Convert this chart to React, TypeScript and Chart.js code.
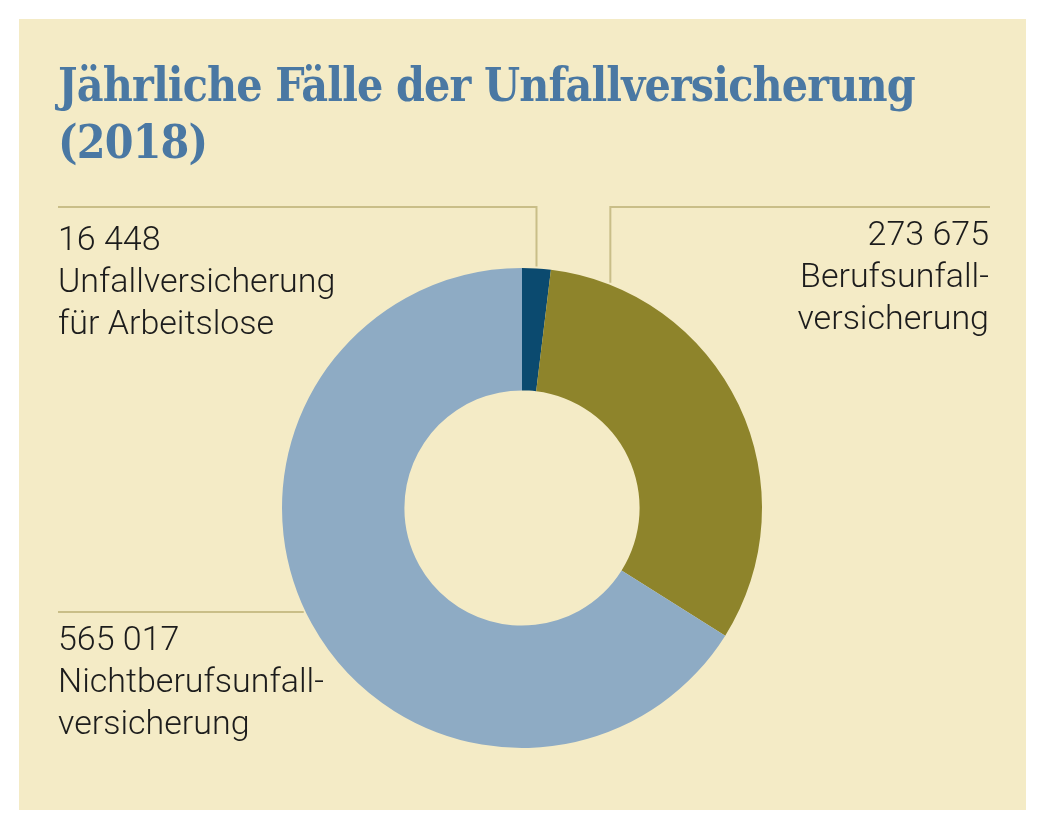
import React, { useEffect, useRef } from "react";
import { Chart, registerables } from "chart.js";

Chart.register(...registerables);

const categories = [
  "Unfallversicherung für Arbeitslose",
  "Berufsunfallversicherung",
  "Nichtberufsunfallversicherung",
];
const values = [16448, 273675, 565017];
const colors = ["#0b4a6f", "#8e842b", "#8eabc4"];
const valueLabels = ["16 448", "273 675", "565 017"];
const labelLines = [
  ["Unfallversicherung", "für Arbeitslose"],
  ["Berufsunfall-", "versicherung"],
  ["Nichtberufsunfall-", "versicherung"],
];

const PANEL_BG = "#f4ebc6";
const LINE_COLOR = "#c9be88";

const leaderPlugin = {
  id: "leaders",
  afterDatasetsDraw(chart: any) {
    const ctx = chart.ctx;
    const meta = chart.getDatasetMeta(0);
    const arc0 = meta.data[0];
    const cx = arc0.x;
    const cy = arc0.y;
    const R = arc0.outerRadius;
    const mid0 = (arc0.startAngle + arc0.endAngle) / 2;
    const p0 = { x: cx + R * Math.cos(mid0), y: cy + R * Math.sin(mid0) };
    const a1 = -Math.PI / 2 + (21.6 * Math.PI) / 180;
    const p1 = { x: cx + R * Math.cos(a1), y: cy + R * Math.sin(a1) };
    const a2 = -Math.PI / 2 + (244.3 * Math.PI) / 180;
    const p2 = { x: cx + R * Math.cos(a2), y: cy + R * Math.sin(a2) };
    const topY = 207;
    ctx.save();
    ctx.strokeStyle = LINE_COLOR;
    ctx.lineWidth = 2;
    ctx.beginPath();
    ctx.moveTo(58, topY);
    ctx.lineTo(p0.x, topY);
    ctx.lineTo(p0.x, p0.y - 2);
    ctx.stroke();
    ctx.beginPath();
    ctx.moveTo(990, topY);
    ctx.lineTo(p1.x, topY);
    ctx.lineTo(p1.x, p1.y - 2);
    ctx.stroke();
    ctx.beginPath();
    ctx.moveTo(58, p2.y);
    ctx.lineTo(p2.x - 2, p2.y);
    ctx.stroke();
    ctx.restore();
  },
};

const labelFont: React.CSSProperties = {
  position: "absolute",
  fontFamily: "Roboto, 'Noto Sans', sans-serif",
  fontWeight: 300,
  fontSize: 34,
  lineHeight: "42px",
  color: "#1c1c1c",
  whiteSpace: "nowrap",
};

export default function App() {
  const canvasRef = useRef<HTMLCanvasElement>(null);

  useEffect(() => {
    if (!canvasRef.current) return;
    const chart = new Chart(canvasRef.current, {
      type: "doughnut",
      data: {
        labels: categories,
        datasets: [
          {
            data: values,
            backgroundColor: colors,
            borderWidth: 0,
          },
        ],
      },
      options: {
        animation: false,
        responsive: false,
        maintainAspectRatio: false,
        cutout: "49%",
        layout: { padding: { left: 282, top: 268, right: 292, bottom: 84 } },
        plugins: {
          legend: { display: false },
          tooltip: { enabled: false },
          title: { display: false },
        },
      },
      plugins: [leaderPlugin],
    });
    return () => chart.destroy();
  }, []);

  return (
    <div style={{ position: "absolute", left: 0, top: 0, width: 1054, height: 832, background: "#ffffff", overflow: "hidden" }}>
      <div style={{ position: "absolute", left: 19, top: 19, width: 1007, height: 791, background: PANEL_BG }} />
      <canvas ref={canvasRef} width={1054} height={832} style={{ position: "absolute", left: 0, top: 0 }} />
      <div
        style={{
          position: "absolute",
          left: 58,
          top: 57,
          fontFamily: "'DejaVu Serif', serif",
          fontWeight: 700,
          fontStretch: "condensed",
          fontSize: 46,
          letterSpacing: "-0.85px",
          lineHeight: "57px",
          color: "#4a78a3",
          whiteSpace: "nowrap",
        }}
      >
        <div>Jährliche Fälle der Unfallversicherung</div>
        <div>(2018)</div>
      </div>
      <div style={{ ...labelFont, left: 58, top: 217 }}>
        <div>{valueLabels[0]}</div>
        {labelLines[0].map((l) => (
          <div key={l}>{l}</div>
        ))}
      </div>
      <div style={{ ...labelFont, right: 1054 - 989, top: 212, textAlign: "right" }}>
        <div>{valueLabels[1]}</div>
        {labelLines[1].map((l) => (
          <div key={l}>{l}</div>
        ))}
      </div>
      <div style={{ ...labelFont, left: 58, top: 617 }}>
        <div>{valueLabels[2]}</div>
        {labelLines[2].map((l) => (
          <div key={l}>{l}</div>
        ))}
      </div>
    </div>
  );
}
